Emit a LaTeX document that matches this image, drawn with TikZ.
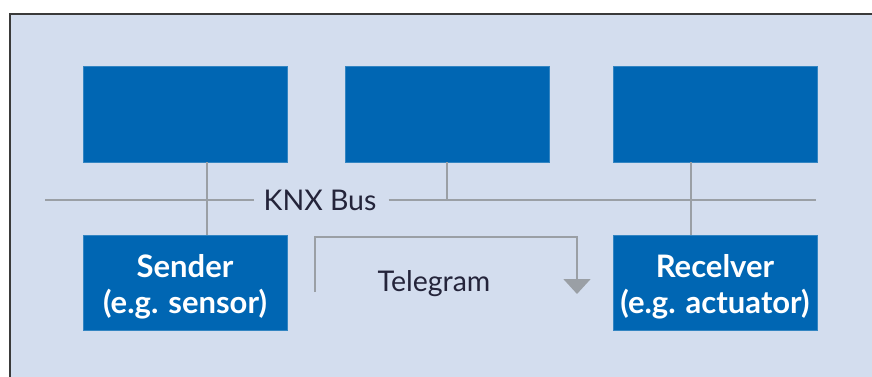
\documentclass[tikz,border=0pt]{standalone}
\usepackage{fontspec}
\setmainfont{Lato}
\usetikzlibrary{arrows.meta}
\definecolor{bgblue}{HTML}{D3DDEE}
\definecolor{boxblue}{HTML}{0066B3}
\definecolor{linegrey}{HTML}{9A9FA5}
\definecolor{framegrey}{HTML}{3A3A3A}
\definecolor{txtdark}{HTML}{24243A}
\newcommand{\twolines}[2]{\raisebox{0pt}[\dimexpr\height+11pt\relax][\depth]{\begin{tabular}{@{}c@{}}#1\\#2\end{tabular}}}
\begin{document}
\begin{tikzpicture}[x=1pt,y=-1pt,
  blk/.style={fill=boxblue,draw=boxblue!80!white,line width=0.6pt,minimum width=204pt,minimum height=96pt,inner sep=0pt},
  lbl/.style={blk,text=white,font=\fontsize{31}{36}\selectfont\bfseries},
  wire/.style={draw=linegrey,line width=1.8pt},
  plain/.style={text=txtdark,font=\fontsize{28.5}{30}\selectfont,inner sep=0pt}]
\useasboundingbox (0,0) rectangle (872,377);
\clip (0,0) rectangle (872,377);
\fill[white] (0,0) rectangle (872,377);
\draw[framegrey,line width=2.5pt,fill=bgblue] (10,14) rectangle (890,400);
% top boxes
\node[blk] (b1) at (185,114) {};
\node[blk] (b2) at (447,114) {};
\node[blk] (b3) at (715,114) {};
% lower boxes
\node[lbl,minimum height=95pt] (snd) at (185,283) {\twolines{Sender}{(e.g. sensor)}};
\node[lbl,minimum height=95pt] (rcv) at (715,283) {\twolines{Recelver}{(e.g. actuator)}};
% bus
\coordinate (busL) at (45,200);
\coordinate (busR) at (816,200);
\node[plain] (bus) at (320,200) {KNX Bus};
\coordinate (x1) at (207,0);
\coordinate (x2) at (447,0);
\coordinate (x3) at (691,0);
\draw[wire] (busL) -- ([xshift=-9pt]bus.west |- busL);
\draw[wire] ([xshift=12pt]bus.east |- busR) -- (busR);
\draw[wire] (b1.south -| x1) -- (snd.north -| x1);
\draw[wire] (b2.south -| x2) -- (busL -| x2);
\draw[wire] (b3.south -| x3) -- (rcv.north -| x3);
% telegram
\coordinate (t1) at (315,292);
\coordinate (t3) at (577,237);
\coordinate (t4) at (577,294);
\draw[wire,-{Triangle[width=27pt,length=15pt]},linegrey] (t1) |- (t3) -- (t4);
\node[plain] (tel) at (434,284) {Telegram};
\end{tikzpicture}
\end{document}
